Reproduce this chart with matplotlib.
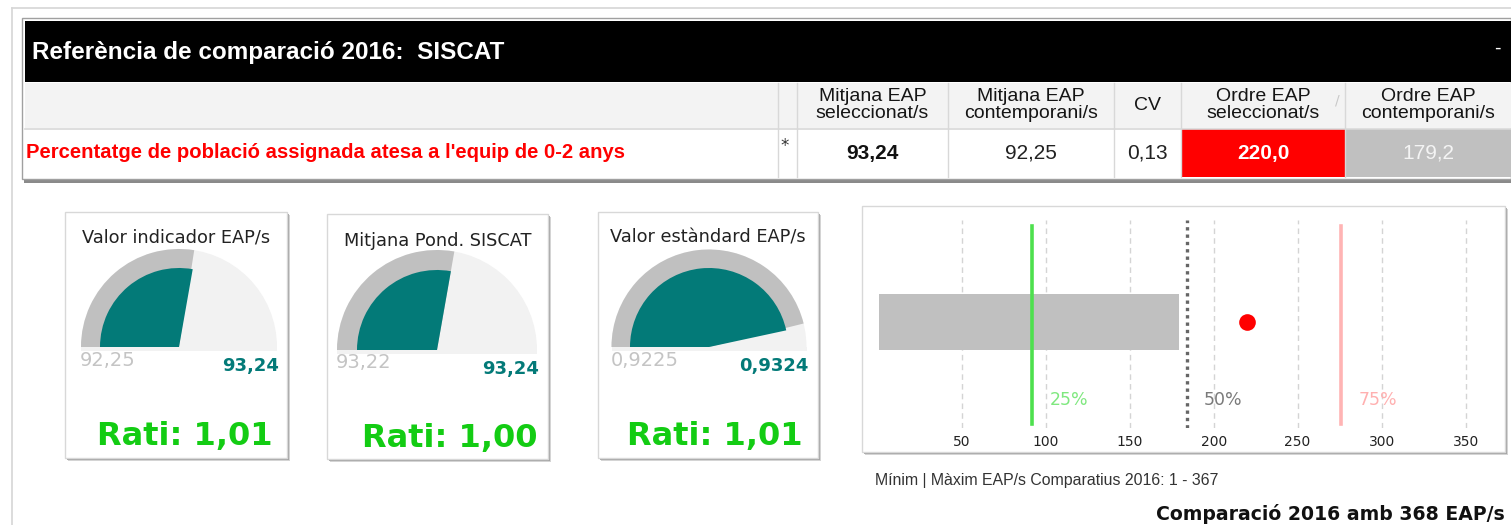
import matplotlib
matplotlib.use("Agg")
import matplotlib.pyplot as plt
from matplotlib.patches import Rectangle, Wedge

W, H = 1511, 525

# ---- data -------------------------------------------------------------
title = "Referència de comparació 2016:  SISCAT"
indicator = "Percentatge de població assignada atesa a l'equip de 0-2 anys"
col_headers = ["Mitjana EAP\nseleccionat/s", "Mitjana EAP\ncontemporani/s", "CV",
               "Ordre EAP\nseleccionat/s", "Ordre EAP\ncontemporani/s"]
mean_selected = 93.24
mean_contemporary = 92.25
cv = 0.13
rank_selected = 220.0
rank_contemporary = 179.2

gauge_titles = ["Valor indicador EAP/s", "Mitjana Pond. SISCAT", "Valor estàndard EAP/s"]
gauge_values = [93.24, 93.24, 0.9324]
gauge_refs = [92.25, 93.22, 0.9225]
gauge_max = [167.83, 167.83, 1.0]
gauge_decimals = [2, 2, 4]
ratios = [1.01, 1.00, 1.01]

rank_min, rank_max = 1, 367
n_eap = 368
quartiles = [92, 184, 276]
quartile_labels = ["25%", "50%", "75%"]
axis_ticks = [50, 100, 150, 200, 250, 300, 350]


def fmt(v, nd):
    return f"{v:.{nd}f}".replace(".", ",")


NARROW = ["Liberation Sans", "DejaVu Sans"]
TEAL = "#037a78"
GREEN = "#13cc13"

fig = plt.figure(figsize=(W / 100, H / 100), dpi=100)
fig.patch.set_facecolor("white")
ax = fig.add_axes([0, 0, 1, 1])
ax.set_xlim(0, W)
ax.set_ylim(H, 0)
ax.axis("off")

# outer frame
ax.plot([12, 12], [8, H], color="#d6d6d6", lw=1.2)
ax.plot([12, W], [8, 8], color="#d6d6d6", lw=1.2)

# ---- indicator table --------------------------------------------------
ax.add_patch(Rectangle((24, 21), W - 24, 162, fc="#8a8a8a", ec="none"))
ax.add_patch(Rectangle((22, 18), W - 22, 161, fc="white", ec="#a0a0a0", lw=1))
ax.add_patch(Rectangle((25, 21), W - 25, 61, fc="black", ec="none"))
ax.text(32, 52, title, color="white", fontsize=17.5, weight="bold", va="center",
        ha="left", family=NARROW)
ax.text(1497, 48, "-", color="white", fontsize=13, va="center", ha="center")

ax.add_patch(Rectangle((25, 83), W - 25, 45, fc="#f3f3f3", ec="none"))
ax.plot([25, W], [128.5, 128.5], color="#d8d8d8", lw=1.2)

seps = [778, 797, 948, 1114, 1181, 1345, W]
ax.add_patch(Rectangle((1182, 129), 1345 - 1182, 48, fc="#ff0000", ec="none"))
ax.add_patch(Rectangle((1346, 129), W - 1346, 48, fc="#c0c0c0", ec="none"))
for s in seps[:-1]:
    ax.plot([s, s], [83, 177], color="#d8d8d8", lw=1)
ax.text(1337, 100, "/", color="#c8c8c8", fontsize=10, ha="center", va="center")

cell_values = [fmt(mean_selected, 2), fmt(mean_contemporary, 2), fmt(cv, 2),
               fmt(rank_selected, 1), fmt(rank_contemporary, 1)]
cell_colors = ["#111111", "#222222", "#222222", "white", "#f4f4f4"]
cell_weights = ["bold", "normal", "normal", "bold", "normal"]
for i, (hdr, val) in enumerate(zip(col_headers, cell_values)):
    cx = (seps[i + 1] + seps[i + 2]) / 2
    ax.text(cx, 105, hdr, ha="center", va="center", fontsize=14, color="#151515",
            family=NARROW, linespacing=1.0)
    ax.text(cx, 153, val, ha="center", va="center", fontsize=15,
            color=cell_colors[i], weight=cell_weights[i], family=NARROW)

ax.text(785, 146, "*", ha="center", va="center", fontsize=12, color="#333333")
ax.text(26, 153, indicator, color="#ff0000", fontsize=14.55, weight="bold",
        va="center", ha="left", family=NARROW)


# ---- cards ------------------------------------------------------------
def card(x0, y0, x1, y1):
    ax.add_patch(Rectangle((x0 + 3, y0 + 3), x1 - x0, y1 - y0, fc="#d4d4d4", ec="none"))
    ax.add_patch(Rectangle((x0 + 1.5, y0 + 1.5), x1 - x0, y1 - y0, fc="#a4a4a4", ec="none"))
    ax.add_patch(Rectangle((x0, y0), x1 - x0, y1 - y0, fc="white", ec="#d8d8d8", lw=1))


cards = [(65, 212, 287, 458), (327, 214, 548, 459), (598, 212, 818, 458)]
centers = [(179, 347, 98, 79), (437, 350, 100, 80), (709, 347, 97.5, 79)]
title_y = [238, 241, 238]
ratio_pos = [(273, 436), (537, 438), (803, 436)]

for i in range(3):
    card(*cards[i])
    x0, y0, x1, y1 = cards[i]
    cx, cy, R, r = centers[i]
    ax.text((x0 + x1) / 2, title_y[i], gauge_titles[i], ha="center", va="center",
            fontsize=12.8, color="#222222")
    f_val = gauge_values[i] / gauge_max[i]
    f_ref = gauge_refs[i] / gauge_max[i]
    a_val = 180 * (1 - f_val)
    a_ref = 180 * (1 - f_ref)
    ax.add_patch(Rectangle((cx - R, cy), 2 * R, 4, fc="#f2f2f2", ec="none"))
    ax.add_patch(Wedge((cx, cy), R, -180, 0, fc="#f2f2f2", ec="none"))
    ax.add_patch(Wedge((cx, cy), R, -180, -a_ref, fc="#c0c0c0", ec="none"))
    ax.add_patch(Wedge((cx, cy), r, -180, -a_val, fc=TEAL, ec="none"))
    ax.text(cx - R - 1, cy + 13, fmt(gauge_refs[i], gauge_decimals[i]), ha="left",
            va="center", fontsize=14, color="#c4c4c4")
    ax.text(cx + R + 2, cy + 19, fmt(gauge_values[i], gauge_decimals[i]), ha="right",
            va="center", fontsize=13, color=TEAL, weight="bold")
    ax.text(*ratio_pos[i], f"Rati: {fmt(ratios[i], 2)}", ha="right", va="center",
            fontsize=23, color=GREEN, weight="bold")

# ---- rank bullet chart ------------------------------------------------
card(862, 206, 1505, 452)
bx = fig.add_axes([866 / W, 1 - 428 / H, (1500 - 866) / W, (428 - 220) / H])
bx.patch.set_alpha(0)
bx.set_xlim(-7, 370.5)
bx.set_ylim(0, 1)
for sp in bx.spines.values():
    sp.set_visible(False)
bx.set_yticks([])
bx.set_xticks(axis_ticks)
bx.tick_params(axis="x", length=0, pad=5, labelsize=10, labelcolor="#222222")
for t in axis_ticks:
    bx.axvline(t, color="#d4d4d4", lw=1, ls=(0, (4, 3)), zorder=1)

bx.barh(0.51, rank_contemporary - rank_min, left=rank_min, height=0.27,
        color="#c0c0c0", zorder=2)
q_colors = ["#4ee04e", "#666666", "#ffb4b4"]
q_text_colors = ["#7fe87f", "#7a7a7a", "#ffb0b0"]
q_styles = ["-", (0, (1.0, 1.2)), "-"]
q_widths = [2.6, 2.4, 2.6]
q_span = [(0.02, 0.97), (0.0, 1.0), (0.02, 0.97)]
for q, lbl, c, tc, ls, lw, (ya, yb) in zip(quartiles, quartile_labels, q_colors,
                                          q_text_colors, q_styles, q_widths, q_span):
    bx.axvline(q, ymin=ya, ymax=yb, color=c, lw=lw, ls=ls, zorder=3)
    bx.annotate(lbl, (q, 0.135), xytext=(12.5, 0), textcoords="offset points",
                ha="left", va="center", fontsize=12.5, color=tc)
bx.plot([rank_selected], [0.51], "o", ms=12, color="#ff0000", mec="none", zorder=4)

ax.text(875, 480, f"Mínim | Màxim EAP/s Comparatius 2016: {rank_min} - {rank_max}",
        ha="left", va="center", fontsize=11.4, color="#333333", family=NARROW)
ax.text(1505, 514, f"Comparació 2016 amb {n_eap} EAP/s", ha="right", va="center",
        fontsize=13.6, weight="bold", color="#111111")

fig.savefig("out.png", dpi=100)
